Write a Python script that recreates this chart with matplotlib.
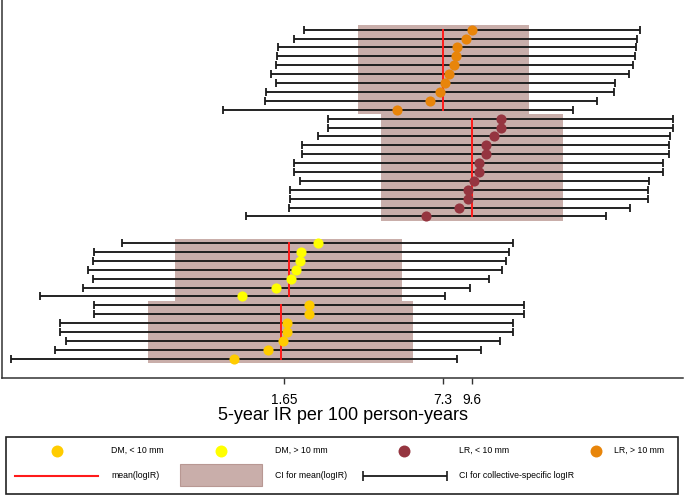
import numpy as np
import matplotlib
matplotlib.use("Agg")
import matplotlib.pyplot as plt
from matplotlib.patches import Rectangle
from matplotlib.ticker import NullLocator

plt.rcParams['font.family'] = ['Liberation Sans', 'DejaVu Sans']

# 5-year IR per 100 person-years, rows from bottom to top within each group
dm_small_ir = [1.04, 1.42, 1.64, 1.70, 1.70, 2.08, 2.08]
dm_small_lo = [0.129, 0.195, 0.215, 0.204, 0.204, 0.280, 0.280]
dm_small_hi = [8.32, 10.4, 12.4, 14.0, 14.0, 15.5, 15.5]

dm_large_ir = [1.12, 1.53, 1.76, 1.84, 1.91, 1.94, 2.26]
dm_large_lo = [0.169, 0.252, 0.278, 0.264, 0.278, 0.280, 0.362]
dm_large_hi = [7.46, 9.41, 11.2, 12.7, 13.2, 13.5, 14.0]

lr_small_ir = [6.23, 8.49, 9.25, 9.25, 9.76, 10.2, 10.2, 10.9, 10.9, 11.8, 12.5, 12.5]
lr_small_lo = [1.16, 1.73, 1.74, 1.74, 1.91, 1.81, 1.81, 1.95, 1.95, 2.27, 2.49, 2.49]
lr_small_hi = [33.5, 42.0, 49.4, 49.4, 49.8, 56.8, 56.8, 60.4, 60.4, 61.1, 62.4, 62.4]

lr_large_ir = [4.74, 6.49, 7.07, 7.43, 7.74, 8.09, 8.22, 8.32, 9.03, 9.56]
lr_large_lo = [0.93, 1.38, 1.40, 1.53, 1.46, 1.53, 1.55, 1.56, 1.82, 2.00]
lr_large_hi = [24.5, 30.7, 36.1, 36.4, 41.5, 42.9, 43.9, 44.1, 44.8, 45.8]

# mean(logIR) back-transformed and its CI, per group
group_means = [1.60, 1.73, 9.60, 7.30]
group_ci_lo = [0.463, 0.599, 4.10, 3.29]
group_ci_hi = [5.53, 4.97, 22.3, 16.3]

group_labels = ["DM, < 10 mm", "DM, > 10 mm", "LR, < 10 mm", "LR, > 10 mm"]
group_colors = ["#ffcc00", "#ffff00", "#953540", "#e8850a"]

tick_values = [1.65, 7.3, 9.6]
tick_labels = ["1.65", "7.3", "9.6"]

groups = [
    (dm_small_ir, dm_small_lo, dm_small_hi),
    (dm_large_ir, dm_large_lo, dm_large_hi),
    (lr_small_ir, lr_small_lo, lr_small_hi),
    (lr_large_ir, lr_large_lo, lr_large_hi),
]
gaps = [0, 0, 2, 0]  # empty rows before each group

box_color = "#c9aeaa"

fig = plt.figure(figsize=(6.85, 4.96), dpi=100)
ax = fig.add_axes([2 / 685, 118 / 496, 681 / 685, 378 / 496])

row = 1
for i, (ir, lo, hi) in enumerate(groups):
    row += gaps[i]
    ir = np.array(ir)
    lo = np.array(lo)
    hi = np.array(hi)
    y = np.arange(row, row + len(ir))
    ax.fill_betweenx([y[0] - 0.5, y[-1] + 0.5], group_ci_lo[i], group_ci_hi[i],
                     color=box_color, lw=0, zorder=1)
    ax.errorbar(ir, y, xerr=[ir - lo, hi - ir], fmt="none", ecolor="#1a1a1a",
                elinewidth=1.35, capsize=2.6, capthick=1.3, zorder=2)
    ax.plot([group_means[i], group_means[i]], [y[0], y[-1]], color="#ff1a1a",
            lw=1.4, zorder=3)
    ax.plot(ir, y, "o", color=group_colors[i], ms=7.3, mec="none", zorder=4)
    row += len(ir)

ax.set_xscale("log")
ax.set_xlim(0.1185, 68.7)
ax.set_ylim(-1.17, 41.34)
ax.set_xticks(tick_values)
ax.set_xticklabels(tick_labels, fontsize=9.8)
ax.xaxis.set_minor_locator(NullLocator())
ax.set_yticks([])
ax.tick_params(axis="x", length=4.5, width=1, color="#333333", pad=6.5)
for s in ["top", "right"]:
    ax.spines[s].set_visible(False)
for s in ["left", "bottom"]:
    ax.spines[s].set_color("#333333")
    ax.spines[s].set_linewidth(1.1)
ax.set_xlabel("5-year IR per 100 person-years", fontsize=13, labelpad=-0.5)

# legend drawn in pixel space
lax = fig.add_axes([0, 0, 1, 1], zorder=5)
lax.set_xlim(0, 685)
lax.set_ylim(496, 0)
lax.axis("off")
lax.add_patch(Rectangle((5.7, 436.7), 672, 57.6, fill=False, ec="#222222", lw=1.2))

fs = 6.3
row1 = 450.7
row2 = 475.5
marker_x = [56.7, 220.7, 404.3, 596]
text_x = [111, 275.3, 459.3, 614.3]
for i in range(4):
    lax.plot(marker_x[i], row1, "o", color=group_colors[i], ms=8.6, mec="none")
    lax.text(text_x[i], row1, group_labels[i], fontsize=fs, va="center", ha="left")

lax.plot([15, 97.7], [row2, row2], color="#ff1a1a", lw=1.5)
lax.text(111, row2, "mean(logIR)", fontsize=fs, va="center", ha="left")
lax.add_patch(Rectangle((180, 464), 82.3, 22, fc=box_color, ec="#b89893", lw=0.8))
lax.text(275.3, row2, "CI for mean(logIR)", fontsize=fs, va="center", ha="left")
lax.errorbar([405], [row2], xerr=[[41.7], [41.7]], fmt="none", ecolor="#1a1a1a",
             elinewidth=1.3, capsize=3.4, capthick=1.2)
lax.text(459.3, row2, "CI for collective-specific logIR", fontsize=fs, va="center", ha="left")

fig.savefig("out.png", dpi=100)
